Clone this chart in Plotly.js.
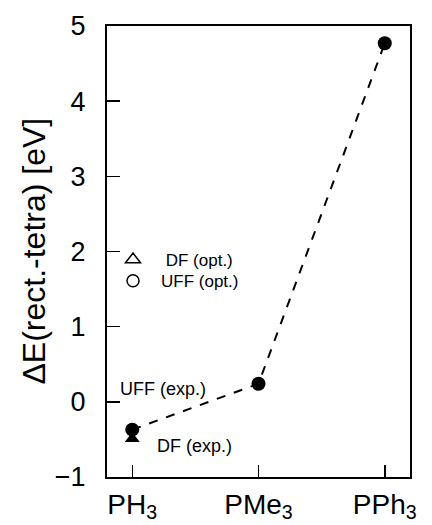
<!DOCTYPE html>
<html><head><meta charset="utf-8">
<script src="https://cdn.plot.ly/plotly-3.0.1.min.js"></script>
<style>body{margin:0;background:#fff}#c{width:432px;height:525px}</style>
</head><body><div id="c"></div>
<script>
const categories = ["PH<sub>3</sub>", "PMe<sub>3</sub>", "PPh<sub>3</sub>"];
const uffExp = [-0.37, 0.24, 4.77];
const dfExpCats = ["PH<sub>3</sub>"];
const dfExp = [-0.49];
const yTicks = [-1, 0, 1, 2, 3, 4, 5];

const idx = categories.map((c, i) => i);
const traces = [
  {x: idx, y: uffExp, mode: "lines+markers", type: "scatter", showlegend: false,
   line: {color: "#000", width: 2, dash: "dash"},
   marker: {symbol: "circle", size: 14, color: "#000"}},
  {x: dfExpCats.map(c => categories.indexOf(c)), y: dfExp, mode: "markers", type: "scatter", showlegend: false,
   marker: {symbol: "triangle-up", size: 13, color: "#000"}},
  {x: [null], y: [null], mode: "markers", type: "scatter", name: " DF (opt.)", legend: "legend",
   marker: {symbol: "triangle-up-open", size: 13, color: "#000", line: {width: 1.5}}},
  {x: [null], y: [null], mode: "markers", type: "scatter", name: "UFF (opt.)", legend: "legend2",
   marker: {symbol: "circle-open", size: 12, color: "#000", line: {width: 1.5}}}
];
const legendBase = {xanchor: "left", yanchor: "top", bgcolor: "rgba(0,0,0,0)",
                    font: {size: 17}, itemwidth: 46};
const layout = {
  width: 432, height: 525,
  margin: {l: 107, r: 22, t: 26, b: 48},
  paper_bgcolor: "#fff", plot_bgcolor: "#fff",
  font: {family: "Liberation Sans, Arial, sans-serif", color: "#000"},
  showlegend: true,
  legend: Object.assign({x: -0.0066, y: 0.521}, legendBase),
  legend2: Object.assign({x: -0.0066, y: 0.474}, legendBase),
  xaxis: {range: [-0.2, 2.2], tickvals: idx, ticktext: categories,
          ticks: "inside", ticklen: 12, tickwidth: 1.5, tickcolor: "#000",
          showline: true, mirror: true, linecolor: "#000", linewidth: 2,
          showgrid: false, zeroline: false, tickfont: {size: 28}, ticklabelstandoff: 1},
  yaxis: {range: [-1, 5], tickvals: yTicks, ticks: "inside", ticklen: 13, tickwidth: 1.5, tickcolor: "#000",
          showline: true, mirror: true, linecolor: "#000", linewidth: 2,
          showgrid: false, zeroline: false, tickfont: {size: 27}, ticklabelstandoff: 14},
  annotations: [
    {text: "ΔE(rect.-tetra) [eV]", xref: "paper", yref: "paper", x: -0.244, y: 0.5, textangle: -90,
     showarrow: false, font: {size: 32}, xanchor: "center", yanchor: "middle"},
    {text: "UFF (exp.)", xref: "x", yref: "y", x: categories.indexOf("PH<sub>3</sub>"), y: uffExp[0],
     showarrow: false, font: {size: 18}, xanchor: "left", yanchor: "middle", xshift: -14, yshift: 41},
    {text: "DF (exp.)", xref: "x", yref: "y", x: categories.indexOf("PH<sub>3</sub>"), y: dfExp[0],
     showarrow: false, font: {size: 18}, xanchor: "left", yanchor: "middle", xshift: 23, yshift: -7}
  ]
};
Plotly.newPlot("c", traces, layout, {staticPlot: true});
</script></body></html>
